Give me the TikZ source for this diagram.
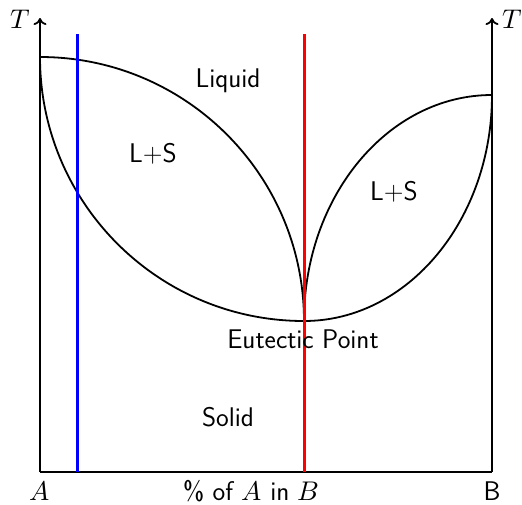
\documentclass[tikz,border=0pt]{standalone}
\usepackage{fontspec}
\usepackage{unicode-math}
\usetikzlibrary{arrows.meta}
\begin{document}
\begin{tikzpicture}[x=1pt,y=-1pt,
  font=\fontsize{27}{32}\selectfont\sffamily,
  blk/.style={line width=1.8pt,black},
  axis/.style={blk,-{To[length=7pt,width=13pt]}},
  comp/.style={line width=3pt},
  lbl/.style={anchor=base,inner sep=0pt}]
\useasboundingbox (0,0) rectangle (522,504);
\coordinate (O) at (40,472);
\coordinate (BR) at (492,472);
\coordinate (TL) at (40,18);
\coordinate (TR) at (492,18);
\coordinate (PA) at (40,57);
\coordinate (E) at (304,321);
\coordinate (PB) at (492,95);
\coordinate (blueTop) at (77,34);
\coordinate (blueBot) at (77,472);
\coordinate (redTop) at (304,34);
\coordinate (redBot) at (304,472);
% axes
\draw[blk] (O) -- (BR);
\draw[axis] (O) -- (TL);
\draw[axis] (BR) -- (TR);
% curves
\draw[blk] (PA) arc[start angle=-90,end angle=0,radius=264];
\draw[blk] (PA) arc[start angle=180,end angle=90,radius=264];
\draw[blk] (E) arc[start angle=180,end angle=270,x radius=188,y radius=226];
\draw[blk] (PB) arc[start angle=0,end angle=90,x radius=188,y radius=226];
% composition lines
\draw[comp,blue] (blueTop) -- (blueBot);
\draw[comp,red] (redTop) -- (redBot);
% labels
\node[lbl] (tl) at (20,28) {$T$};
\node[lbl] (tr) at (512,28) {$T$};
\node[lbl] (liq) at (228,87) {Liquid};
\node[lbl] (ls1) at (153,162) {L+S};
\node[lbl] (ls2) at (394,200) {L+S};
\node[lbl] (eut) at (303,348) {Eutectic Point};
\node[lbl] (sol) at (228,426) {Solid};
\node[lbl] (la) at (40,500) {$A$};
\node[lbl] (lb) at (492,500) {B};
\node[lbl] (lx) at (251,500) {\% of $A$ in $B$};
\end{tikzpicture}
\end{document}
